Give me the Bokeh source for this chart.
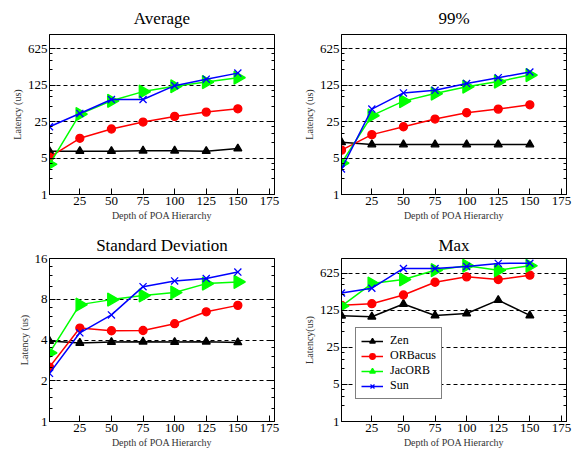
import math
from bokeh.plotting import figure
from bokeh.layouts import gridplot
from bokeh.models import FixedTicker, LogAxis, Range1d, PrintfTickFormatter, CustomJSTickFormatter
from bokeh.embed import file_html
from bokeh.resources import INLINE

depth = [1, 25, 50, 75, 100, 125, 150]
x_ticks = [25, 50, 75, 100, 125, 150, 175]
series_names = ["Zen", "ORBacus", "JacORB", "Sun"]

avg_zen = [6.8, 6.8, 6.8, 6.9, 6.9, 6.8, 7.6]
avg_orbacus = [5.2, 12.0, 18.1, 24.6, 31.6, 38.2, 44.2]
avg_jacorb = [3.8, 35, 62.9, 94.5, 119.5, 144, 175]
avg_sun = [20, 36, 66.8, 66.8, 123, 163.6, 214]

p99_zen = [10.1, 9.1, 9.1, 9.1, 9.1, 9.1, 9.1]
p99_orbacus = [7.1, 14.1, 20.0, 28.1, 37.1, 43.6, 52.8]
p99_jacorb = [4.0, 32.6, 62.0, 86.6, 117.5, 147, 196]
p99_sun = [3.1, 43.6, 89.2, 100, 134.6, 175, 225]

std_zen = [3.93, 3.8, 3.86, 3.88, 3.86, 3.88, 3.84]
std_orbacus = [2.52, 4.9, 4.68, 4.7, 5.28, 6.46, 7.21]
std_jacorb = [3.21, 7.3, 7.95, 8.52, 8.98, 10.44, 10.74]
std_sun = [2.27, 4.52, 6.13, 9.91, 10.93, 11.38, 12.7]

max_zen = [98.4, 94.4, 163.6, 99.8, 108.7, 194, 99.8]
max_orbacus = [155, 166, 242, 421, 532, 474, 573]
max_jacorb = [150, 398, 475, 711, 861, 711, 861]
max_sun = [264, 325, 765, 765, 836, 953, 961]

log5_ticks = [1, 5, 25, 125, 625]
log5_minor = [2, 3, 4, 10, 15, 20, 50, 75, 100, 250, 375, 500]
log2_ticks = [1, 2, 4, 8, 16]
log2_minor = [1.25, 1.5, 1.75, 2.5, 3, 3.5, 5, 6, 7, 10, 12, 14]

SERIF = "'Liberation Serif', 'Times New Roman', serif"
styles = {
    "Zen": dict(color="black", marker="triangle", size=8, angle=0),
    "ORBacus": dict(color="#ff0000", marker="circle", size=8, angle=0),
    "JacORB": dict(color="#00ff00", marker="triangle", size=13, angle=-math.pi / 2),
    "Sun": dict(color="#0000ff", marker="x", size=10, angle=0),
}


def make_plot(title, ylabel, data, yr, ticks, minor, width, height,
              bl, br, bt, bb, title_standoff, legend=False):
    p = figure(width=width, height=height, x_range=Range1d(1, 179),
               y_range=Range1d(*yr), y_axis_type="log",
               output_backend="svg", toolbar_location=None,
               min_border_left=bl, min_border_right=br,
               min_border_top=bt, min_border_bottom=bb)
    p.title.text = title
    p.title.text_font = SERIF
    p.title.text_font_size = "17px"
    p.title.text_font_style = "normal"
    p.title.text_color = "black"
    p.title.align = "center"
    p.title.standoff = title_standoff
    p.outline_line_color = "black"
    p.outline_line_alpha = 1
    p.background_fill_color = "white"
    p.border_fill_color = "white"

    p.xgrid.visible = False
    p.ygrid.ticker = FixedTicker(ticks=ticks)
    p.ygrid.grid_line_color = "black"
    p.ygrid.grid_line_dash = "4 3"
    p.ygrid.grid_line_width = 1

    xa = p.xaxis[0]
    xa.ticker = FixedTicker(ticks=x_ticks)
    xa.axis_label = "Depth of POA Hierarchy"
    ya = p.yaxis[0]
    ya.ticker = FixedTicker(ticks=ticks, minor_ticks=minor)
    ya.formatter = PrintfTickFormatter(format="%d")
    ya.axis_label = ylabel
    for a in (xa, ya):
        a.major_tick_in = 6
        a.major_tick_out = 0
        a.minor_tick_in = 3
        a.minor_tick_out = 0
        a.major_label_text_font = SERIF
        a.major_label_text_font_size = "13px"
        a.major_label_standoff = 2
        a.axis_label_text_font = SERIF
        a.axis_label_text_font_size = "10px"
        a.axis_label_text_font_style = "normal"
        a.axis_label_standoff = 2
        a.axis_line_color = "black"
        a.major_tick_line_color = "black"
        a.minor_tick_line_color = "black"
        a.major_label_text_color = "black"
        a.axis_label_text_color = "#333333"
    xa.minor_tick_in = 0

    ra = LogAxis(ticker=FixedTicker(ticks=ticks, minor_ticks=minor),
                 formatter=CustomJSTickFormatter(code="return ''"),
                 major_label_standoff=0,
                 major_tick_in=6, major_tick_out=0,
                 minor_tick_in=3, minor_tick_out=0,
                 axis_line_color="black")
    p.add_layout(ra, "right")

    for name, ys in zip(series_names, data):
        st = styles[name]
        kw = dict(legend_label=name) if legend else {}
        p.line(depth, ys, line_color=st["color"], line_width=1.5, **kw)
        p.scatter(depth, ys, marker=st["marker"], size=st["size"],
                  angle=st["angle"], fill_color=st["color"],
                  line_color=st["color"], line_width=1.3, **kw)
    if legend:
        lg = p.legend[0]
        lg.location = (14, 22)
        lg.border_line_color = "black"
        lg.border_line_width = 1
        lg.background_fill_alpha = 1
        lg.label_text_font = SERIF
        lg.label_text_font_size = "12px"
        lg.label_text_color = "black"
        lg.glyph_width = 22
        lg.glyph_height = 14
        lg.label_height = 14
        lg.spacing = 0
        lg.padding = 5
        lg.margin = 0
        lg.label_standoff = 7
    return p


p1 = make_plot("Average", "Latency (us)",
               [avg_zen, avg_orbacus, avg_jacorb, avg_sun], (1, 1180),
               log5_ticks, log5_minor, 292, 225, 49, 18, 33, 31, 13)
p2 = make_plot("99%", "Latency (us)",
               [p99_zen, p99_orbacus, p99_jacorb, p99_sun], (1, 1180),
               log5_ticks, log5_minor, 292, 225, 49, 18, 33, 31, 13)
p3 = make_plot("Standard Deviation", "Latency (us)",
               [std_zen, std_orbacus, std_jacorb, std_sun], (1, 16),
               log2_ticks, log2_minor, 292, 226, 49, 18, 33, 30, 7)
p4 = make_plot("Max", "Latency(us)",
               [max_zen, max_orbacus, max_jacorb, max_sun], (1, 1180),
               log5_ticks, log5_minor, 292, 226, 49, 18, 33, 30, 7, legend=True)

grid = gridplot([[p1, p2], [p3, p4]], toolbar_location=None)
open("out.html", "w").write(file_html(grid, INLINE))
